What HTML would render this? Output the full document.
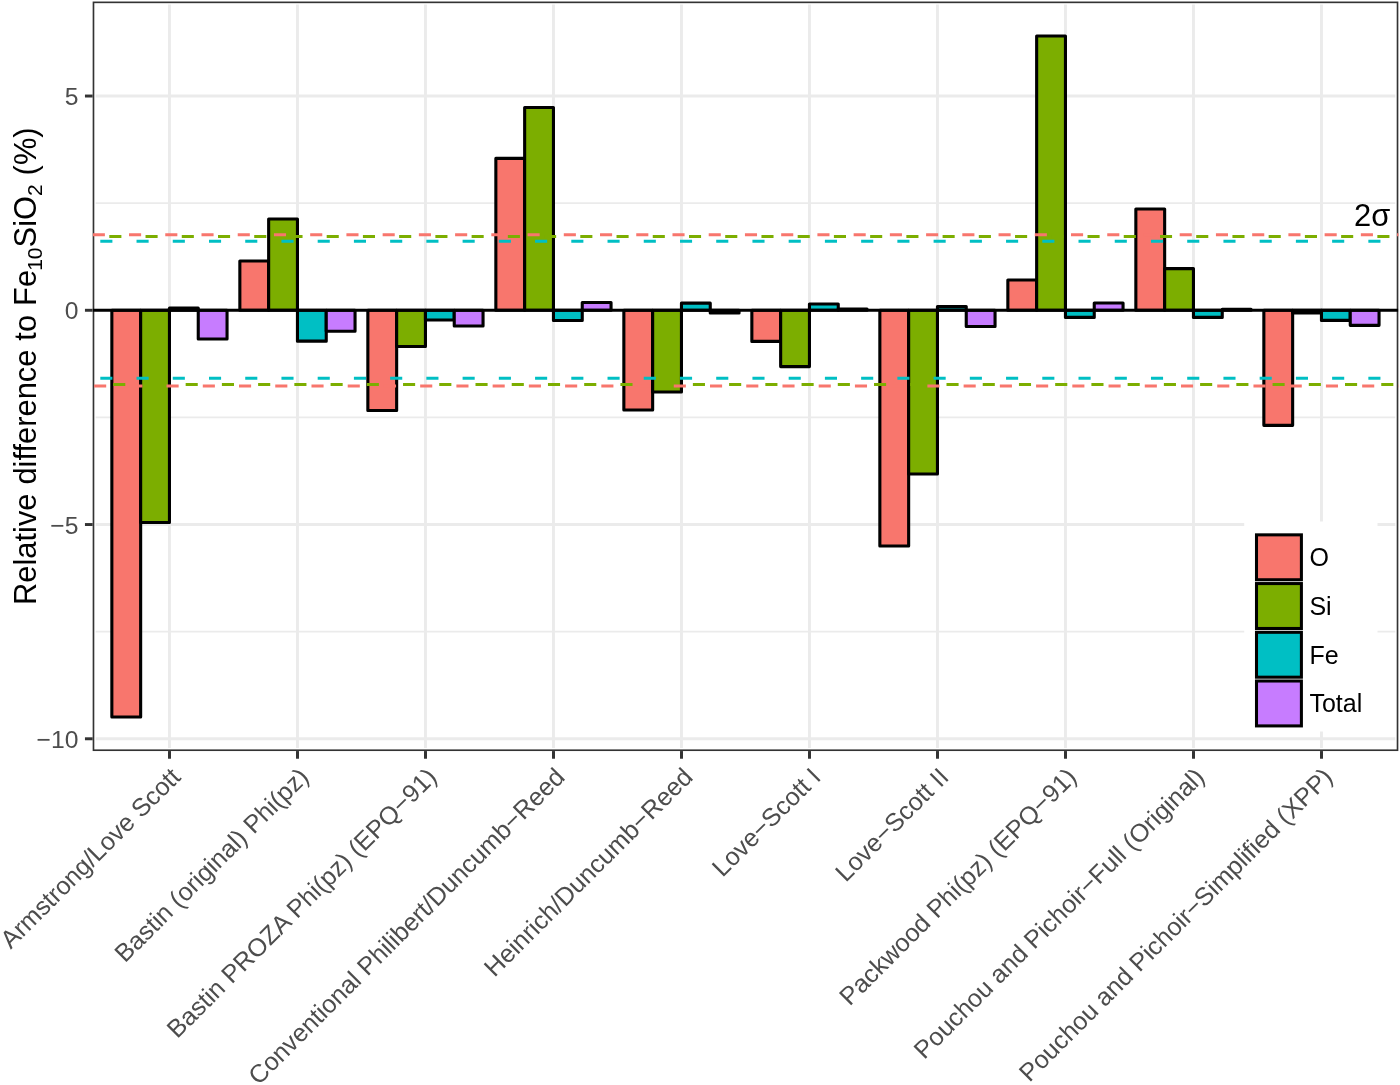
<!DOCTYPE html>
<html lang="en"><head><meta charset="utf-8"><title>Relative difference to Fe10SiO2</title>
<style>html,body{margin:0;padding:0;background:#fff}svg{display:block}text{font-family:"Liberation Sans",sans-serif}</style></head><body>
<svg width="1400" height="1085" viewBox="0 0 1400 1085">
<rect width="1400" height="1085" fill="#fff"/>
<defs><clipPath id="pc"><rect x="92.7" y="1.6" width="1305.7" height="749.5"/></clipPath></defs>
<g clip-path="url(#pc)">
<g stroke="#EBEBEB" stroke-width="1.6">
<line x1="95.70" x2="1395.30" y1="631.65" y2="631.65"/>
<line x1="95.70" x2="1395.30" y1="417.40" y2="417.40"/>
<line x1="95.70" x2="1395.30" y1="203.15" y2="203.15"/>
</g>
<g stroke="#EBEBEB" stroke-width="2.95">
<line x1="95.70" x2="1395.30" y1="738.78" y2="738.78"/>
<line x1="95.70" x2="1395.30" y1="524.53" y2="524.53"/>
<line x1="95.70" x2="1395.30" y1="310.28" y2="310.28"/>
<line x1="95.70" x2="1395.30" y1="96.03" y2="96.03"/>
<line x1="169.45" x2="169.45" y1="4.60" y2="748.00"/>
<line x1="297.45" x2="297.45" y1="4.60" y2="748.00"/>
<line x1="425.45" x2="425.45" y1="4.60" y2="748.00"/>
<line x1="553.45" x2="553.45" y1="4.60" y2="748.00"/>
<line x1="681.45" x2="681.45" y1="4.60" y2="748.00"/>
<line x1="809.45" x2="809.45" y1="4.60" y2="748.00"/>
<line x1="937.45" x2="937.45" y1="4.60" y2="748.00"/>
<line x1="1065.45" x2="1065.45" y1="4.60" y2="748.00"/>
<line x1="1193.45" x2="1193.45" y1="4.60" y2="748.00"/>
<line x1="1321.45" x2="1321.45" y1="4.60" y2="748.00"/>
</g>
<g stroke="#000" stroke-width="3.10" stroke-linejoin="round">
<rect x="111.85" y="310.28" width="28.80" height="406.65" fill="#F8766D"/>
<rect x="140.65" y="310.28" width="28.80" height="212.28" fill="#7CAE00"/>
<rect x="169.45" y="308.14" width="28.80" height="2.14" fill="#00BFC4"/>
<rect x="198.25" y="310.28" width="28.80" height="28.71" fill="#C77CFF"/>
<rect x="239.85" y="261.00" width="28.80" height="49.28" fill="#F8766D"/>
<rect x="268.65" y="219.01" width="28.80" height="91.27" fill="#7CAE00"/>
<rect x="297.45" y="310.28" width="28.80" height="30.85" fill="#00BFC4"/>
<rect x="326.25" y="310.28" width="28.80" height="21.00" fill="#C77CFF"/>
<rect x="367.85" y="310.28" width="28.80" height="100.27" fill="#F8766D"/>
<rect x="396.65" y="310.28" width="28.80" height="36.29" fill="#7CAE00"/>
<rect x="425.45" y="310.28" width="28.80" height="9.68" fill="#00BFC4"/>
<rect x="454.25" y="310.28" width="28.80" height="15.68" fill="#C77CFF"/>
<rect x="495.85" y="158.42" width="28.80" height="151.86" fill="#F8766D"/>
<rect x="524.65" y="107.43" width="28.80" height="202.85" fill="#7CAE00"/>
<rect x="553.45" y="310.28" width="28.80" height="10.28" fill="#00BFC4"/>
<rect x="582.25" y="302.57" width="28.80" height="7.71" fill="#C77CFF"/>
<rect x="623.85" y="310.28" width="28.80" height="99.67" fill="#F8766D"/>
<rect x="652.65" y="310.28" width="28.80" height="81.67" fill="#7CAE00"/>
<rect x="681.45" y="303.17" width="28.80" height="7.11" fill="#00BFC4"/>
<rect x="710.25" y="310.28" width="28.80" height="2.70" fill="#C77CFF"/>
<rect x="751.85" y="310.28" width="28.80" height="31.11" fill="#F8766D"/>
<rect x="780.65" y="310.28" width="28.80" height="56.30" fill="#7CAE00"/>
<rect x="809.45" y="303.98" width="28.80" height="6.30" fill="#00BFC4"/>
<rect x="838.25" y="308.99" width="28.80" height="1.29" fill="#C77CFF"/>
<rect x="879.85" y="310.28" width="28.80" height="235.67" fill="#F8766D"/>
<rect x="908.65" y="310.28" width="28.80" height="163.69" fill="#7CAE00"/>
<rect x="937.45" y="306.59" width="28.80" height="3.69" fill="#00BFC4"/>
<rect x="966.25" y="310.28" width="28.80" height="16.28" fill="#C77CFF"/>
<rect x="1007.85" y="279.99" width="28.80" height="30.29" fill="#F8766D"/>
<rect x="1036.65" y="36.04" width="28.80" height="274.24" fill="#7CAE00"/>
<rect x="1065.45" y="310.28" width="28.80" height="7.11" fill="#00BFC4"/>
<rect x="1094.25" y="303.00" width="28.80" height="7.28" fill="#C77CFF"/>
<rect x="1135.85" y="208.98" width="28.80" height="101.30" fill="#F8766D"/>
<rect x="1164.65" y="268.59" width="28.80" height="41.69" fill="#7CAE00"/>
<rect x="1193.45" y="310.28" width="28.80" height="7.11" fill="#00BFC4"/>
<rect x="1222.25" y="309.42" width="28.80" height="0.86" fill="#C77CFF"/>
<rect x="1263.85" y="310.28" width="28.80" height="115.05" fill="#F8766D"/>
<rect x="1292.65" y="310.28" width="28.80" height="2.57" fill="#7CAE00"/>
<rect x="1321.45" y="310.28" width="28.80" height="10.11" fill="#00BFC4"/>
<rect x="1350.25" y="310.28" width="28.80" height="15.08" fill="#C77CFF"/>
</g>
</g>
<text x="1354.1" y="225.6" font-size="30.9" fill="#000">2σ</text>
<rect x="1244.2" y="521.5" width="133.3" height="210" fill="#fff"/>
<g stroke="#000" stroke-width="3.05">
<rect x="1256.5" y="534.85" width="44.9" height="44.9" fill="#F8766D"/>
<rect x="1256.5" y="583.57" width="44.9" height="44.9" fill="#7CAE00"/>
<rect x="1256.5" y="632.29" width="44.9" height="44.9" fill="#00BFC4"/>
<rect x="1256.5" y="681.01" width="44.9" height="44.9" fill="#C77CFF"/>
</g>
<g font-size="25" fill="#000">
<text x="1309.4" y="566.0">O</text>
<text x="1309.4" y="614.9">Si</text>
<text x="1309.4" y="663.6">Fe</text>
<text x="1309.4" y="712.2">Total</text>
</g>
<rect x="93.48" y="2.35" width="1304.04" height="747.87" fill="none" stroke="#333" stroke-width="1.65"/>
<g clip-path="url(#pc)">
<line x1="92.7" x2="1398.3" y1="310.28" y2="310.28" stroke="#000" stroke-width="3"/>
<line x1="56.57" x2="1403.3" y1="234.72" y2="234.72" stroke="#F8766D" stroke-width="3" stroke-dasharray="12.10 24.13"/>
<line x1="73.07" x2="1403.3" y1="236.42" y2="236.42" stroke="#7CAE00" stroke-width="3" stroke-dasharray="12.10 24.13"/>
<line x1="64.07" x2="1403.3" y1="241.32" y2="241.32" stroke="#00BFC4" stroke-width="3" stroke-dasharray="12.10 24.13"/>
<line x1="64.07" x2="1403.3" y1="378.35" y2="378.35" stroke="#00BFC4" stroke-width="3" stroke-dasharray="12.10 24.13"/>
<line x1="57.87" x2="1403.3" y1="386.12" y2="386.12" stroke="#F8766D" stroke-width="3" stroke-dasharray="12.10 24.13"/>
<line x1="76.97" x2="1403.3" y1="384.55" y2="384.55" stroke="#7CAE00" stroke-width="3" stroke-dasharray="12.10 24.13"/>
</g>
<g stroke="#333" stroke-width="2.95">
<line x1="84.95" x2="92.65" y1="738.78" y2="738.78"/>
<line x1="84.95" x2="92.65" y1="524.53" y2="524.53"/>
<line x1="84.95" x2="92.65" y1="310.28" y2="310.28"/>
<line x1="84.95" x2="92.65" y1="96.03" y2="96.03"/>
<line x1="169.50" x2="169.50" y1="751.05" y2="758.75"/>
<line x1="297.50" x2="297.50" y1="751.05" y2="758.75"/>
<line x1="425.50" x2="425.50" y1="751.05" y2="758.75"/>
<line x1="553.50" x2="553.50" y1="751.05" y2="758.75"/>
<line x1="681.50" x2="681.50" y1="751.05" y2="758.75"/>
<line x1="809.50" x2="809.50" y1="751.05" y2="758.75"/>
<line x1="937.50" x2="937.50" y1="751.05" y2="758.75"/>
<line x1="1065.50" x2="1065.50" y1="751.05" y2="758.75"/>
<line x1="1193.50" x2="1193.50" y1="751.05" y2="758.75"/>
<line x1="1321.50" x2="1321.50" y1="751.05" y2="758.75"/>
</g>
<g font-size="24.7" fill="#4D4D4D" text-anchor="end">
<text x="78.4" y="105.0">5</text>
<text x="78.4" y="319.3">0</text>
<text x="78.4" y="533.5">−5</text>
<text x="78.4" y="747.8">−10</text>
</g>
<g font-size="25.2" fill="#4D4D4D" text-anchor="end">
<text transform="translate(182.0,778.5) rotate(-45)">Armstrong/Love Scott</text>
<text transform="translate(310.1,778.5) rotate(-45)">Bastin (original) Phi(pz)</text>
<text transform="translate(438.1,778.5) rotate(-45)">Bastin PROZA Phi(pz) (EPQ−91)</text>
<text transform="translate(566.1,778.5) rotate(-45)">Conventional Philibert/Duncumb−Reed</text>
<text transform="translate(694.1,778.5) rotate(-45)">Heinrich/Duncumb−Reed</text>
<text transform="translate(822.1,778.5) rotate(-45)">Love−Scott I</text>
<text transform="translate(950.1,778.5) rotate(-45)">Love−Scott II</text>
<text transform="translate(1078.0,778.5) rotate(-45)">Packwood Phi(pz) (EPQ−91)</text>
<text transform="translate(1206.0,778.5) rotate(-45)">Pouchou and Pichoir−Full (Original)</text>
<text transform="translate(1334.0,778.5) rotate(-45)">Pouchou and Pichoir−Simplified (XPP)</text>
</g>
<text transform="translate(35.5,605.1) rotate(-90)" font-size="30.9" fill="#000" word-spacing="0.3">Relative difference to Fe<tspan font-size="21.0" dy="6" dx="-0.9">10</tspan><tspan dy="-6">SiO</tspan><tspan font-size="21.0" dy="6">2</tspan><tspan dy="-6"> (%)</tspan></text>
</svg></body></html>
